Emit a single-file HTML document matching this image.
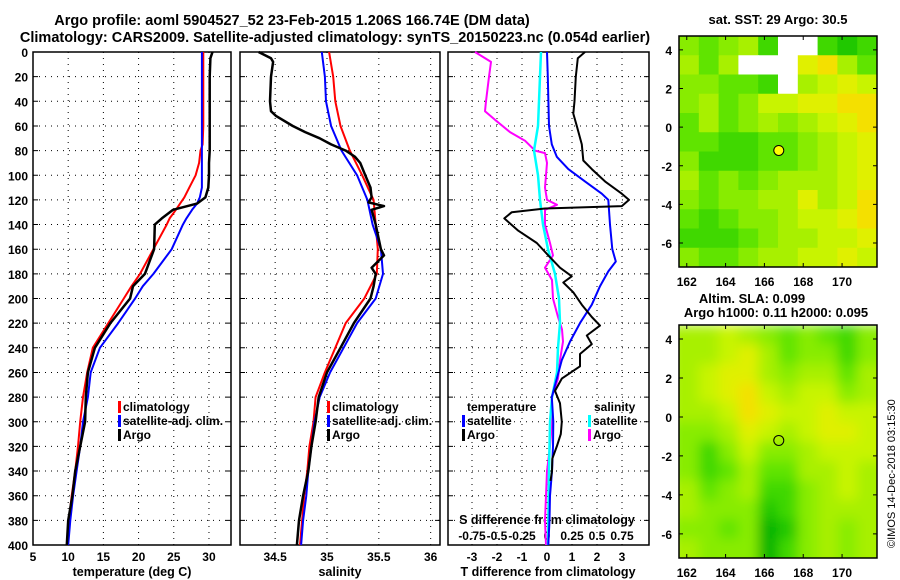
<!DOCTYPE html>
<html><head><meta charset="utf-8"><style>
body{margin:0;background:#fff}
svg{display:block;font-family:"Liberation Sans",sans-serif;font-weight:bold}
</style></head><body>
<svg id="c" width="900" height="580" xmlns="http://www.w3.org/2000/svg">
<text x="292" y="25" font-size="14.5" text-anchor="middle">Argo profile: aoml 5904527_52 23-Feb-2015 1.206S 166.74E (DM data)</text>
<text x="335" y="42" font-size="14.5" text-anchor="middle">Climatology: CARS2009. Satellite-adjusted climatology: synTS_20150223.nc (0.054d earlier)</text>
<text x="778" y="24" font-size="13" text-anchor="middle">sat. SST: 29 Argo: 30.5</text>
<text x="752" y="303" font-size="13" text-anchor="middle">Altim. SLA: 0.099</text>
<text x="776" y="317" font-size="13" text-anchor="middle">Argo h1000: 0.11 h2000: 0.095</text>
<text transform="translate(895,548) rotate(-90)" font-size="11" font-weight="normal">©IMOS 14-Dec-2018 03:15:30</text>
<g id="g"></g>
</svg>
<script>
const depths=[0,5,20,40,60,75,80,90,100,110,118,123,128,135,140,160,180,190,200,220,240,260,280,300,320,340,360,380,400];
const tClim=[29.2,29.2,29.2,29.2,29.2,29.1,28.8,28.6,28.1,27.2,26.5,25.9,25.3,24.4,24.0,22.1,20.2,19.0,17.9,15.7,13.5,12.7,12.1,11.7,11.4,11.0,10.5,10.1,9.8];
const tSat=[29.0,29.0,29.0,29.0,29.0,29.0,29.0,29.0,29.0,29.0,28.7,28.3,27.6,26.8,26.3,24.7,22.1,20.6,19.5,17.1,14.5,13.2,12.8,12.1,11.7,11.2,10.7,10.3,10.0];
const tArgo=[30.5,30.2,30.1,30.1,30.1,30.1,30.1,30.0,30.0,29.9,29.5,28.3,24.9,23.3,22.3,22.2,20.9,19.2,18.8,16.0,13.8,12.8,12.5,12.4,11.7,11.0,10.6,10.0,9.8];
const sDepths=[0,5,8,20,40,48,52,60,65,70,75,80,85,90,100,110,118,122,125,128,140,160,165,175,180,190,200,220,240,260,280,300,320,340,360,380,400];
const sArgo=[34.34,34.46,34.48,34.46,34.45,34.46,34.51,34.67,34.79,34.93,35.04,35.18,35.27,35.32,35.37,35.42,35.43,35.40,35.55,35.43,35.47,35.52,35.55,35.43,35.47,35.45,35.42,35.26,35.13,35.00,34.92,34.89,34.85,34.82,34.77,34.73,34.71];
const cDepths=[0,20,40,60,80,100,120,140,160,180,200,220,240,260,280,300,320,340,360,380,400];
const sClim=[35.02,35.06,35.08,35.13,35.22,35.34,35.45,35.47,35.49,35.48,35.36,35.18,35.08,34.98,34.89,34.87,34.83,34.81,34.78,34.76,34.74];
const sSat=[34.95,34.98,34.99,35.04,35.14,35.29,35.39,35.44,35.52,35.54,35.47,35.29,35.16,35.03,34.93,34.88,34.85,34.82,34.80,34.77,34.75];
const dtDepths=[0,5,20,40,50,60,75,88,95,105,115,120,125,127,130,135,145,155,165,175,182,187,195,205,215,222,230,237,245,255,265,275,285,300,310,320,330,340,348];
const dtArgo=[1.52,1.23,1.15,1.10,1.05,1.19,1.39,1.45,1.79,2.32,2.99,3.28,2.99,-0.08,-1.41,-1.71,-1.15,-0.41,0.05,0.52,0.99,0.65,1.05,1.39,1.79,2.12,1.59,1.79,1.32,1.32,0.59,0.32,0.52,0.59,0.55,0.39,0.21,0.20,0.14];
const dtsDepths=[0,20,60,75,85,95,105,115,120,140,160,170,178,190,205,220,235,250,265,280,300,320,340,360,380,400];
const dtSat=[0,0.03,0.08,0.19,0.39,0.85,1.52,2.19,2.45,2.52,2.61,2.75,2.45,2.12,1.79,1.32,0.92,0.59,0.39,0.19,0.25,0.24,0.20,0.12,0.10,0.05];
const dsaDepths=[0,8,20,40,48,55,65,72,80,82,90,110,120,124,128,140,155,165,175,185,200,215,225,235,250,265,280,300,320,340,360,380,400];
const dsArgo=[-0.72,-0.56,-0.58,-0.61,-0.62,-0.52,-0.37,-0.22,-0.12,-0.02,0,-0.02,0,0.10,-0.02,-0.02,0.03,0.06,-0.02,0.05,0.06,0.11,0.15,0.16,0.13,0.11,0.05,0.05,0.03,0,-0.01,-0.02,-0.01];
const dssDepths=[0,40,60,80,100,120,140,160,180,200,220,240,260,280,300,340,400];
const dsSat=[-0.06,-0.08,-0.09,-0.13,-0.09,-0.07,-0.04,0.01,0.08,0.12,0.13,0.11,0.10,0.05,0.03,0.02,0.01];
const depthTicks=[0,20,40,60,80,100,120,140,160,180,200,220,240,260,280,300,320,340,360,380,400];
const tTicks=[5,10,15,20,25,30];
const sTicks=[34.5,35,35.5,36];
const dtTicks=[-3,-2,-1,0,1,2,3];
const dsTicks=[-0.75,-0.5,-0.25,0,0.25,0.5,0.75];
const dsTickLabels=["-0.75","-0.5","-0.25","0","0.25","0.5","0.75"];
const lonTicks=[162,164,166,168,170];
const latTicks=[4,2,0,-2,-4,-6];
const sstGrid=[
[4,3,4,5,2,-1,-1,2,1,2],[5,3,5,-1,-1,-1,7,8,5,3],[4,4,3,3,2,-1,5,6,7,6],[4,5,3,4,6,6,7,7,8,8],
[3,5,3,4,5,4,5,6,7,8],[3,3,2,2,3,3,4,5,6,7],[4,2,2,2,3,3,4,5,6,7],[5,3,4,3,4,5,5,5,6,7],
[4,3,4,4,5,5,7,5,6,8],[3,2,3,4,4,5,6,6,7,8],[2,2,2,3,4,5,5,6,6,7],[4,3,3,4,5,5,6,6,7,6]];
const slaGrid=[
[5,5,6,5,4,3,4,3,2,4],[5,5,6,7,5,3,4,4,2,4],[5,6,7,7,5,4,5,5,3,5],[5,6,7,8,6,5,6,6,4,5],
[5,5,6,8,7,6,6,7,6,6],[4,4,5,7,6,5,6,7,7,6],[4,2,4,6,4,4,5,6,6,6],[4,2,3,5,3,3,5,5,6,5],
[5,3,4,5,2,2,4,5,6,5],[5,4,4,4,1,2,4,5,5,5],[4,4,3,4,0,1,4,5,4,5],[5,4,4,4,0,2,4,5,4,5]];
const argoPos=[166.74,-1.206];

const NS="http://www.w3.org/2000/svg";
const G=document.getElementById('g');
function mk(tag,attrs,parent){const e=document.createElementNS(NS,tag);for(const k in attrs)e.setAttribute(k,attrs[k]);(parent||G).appendChild(e);return e;}
const top0=52,bot=545;
const yD=d=>top0+(bot-top0)*d/400;
const panels=[
 {x0:33,x1:231,v0:5,v1:33.13,ticks:tTicks,name:'temperature'},
 {x0:240,x1:440,v0:34.161,v1:36.09,ticks:sTicks,name:'salinity'},
 {x0:448,x1:649,v0:-3.96,v1:4.08,ticks:dtTicks,name:'t-difference'}];
const sx=(p,v)=>p.x0+(p.x1-p.x0)*(v-p.v0)/(p.v1-p.v0);
const dsx=v=>547+v*100;
panels.forEach((p,i)=>{
 const f=mk('rect',{x:p.x0,y:top0,width:p.x1-p.x0,height:bot-top0,fill:'none',stroke:'#000','stroke-width':1.5});
 
 
 depthTicks.forEach(d=>{
  if(d>0&&d<400){const l=mk('line',{x1:p.x0,x2:p.x1,y1:yD(d),y2:yD(d),stroke:'#000','stroke-dasharray':'1 5'});
  
  }
  const tk=mk('path',{d:`M${p.x0},${yD(d)}h5M${p.x1},${yD(d)}h-5`,stroke:'#000'});
  
  
  if(i===0){const t=mk('text',{x:p.x0-5,y:yD(d)+5,'font-size':12,'text-anchor':'end'});t.textContent=d;
  
  }
 });
 p.ticks.forEach(v=>{const x=sx(p,v);
  const l=mk('line',{x1:x,x2:x,y1:top0,y2:bot,stroke:'#000','stroke-dasharray':'1 5'});
  
  
  const t=mk('text',{x:x,y:561,'font-size':12,'text-anchor':'middle'});t.textContent=v;
  
  
 });
});
[['temperature (deg C)',132],['salinity',340],['T difference from climatology',548]].forEach(a=>{
 const t=mk('text',{x:a[1],y:576,'font-size':12.5,'text-anchor':'middle'});t.textContent=a[0];
 
 
});
const st=mk('text',{x:547,y:524,'font-size':12.5,'text-anchor':'middle'});st.textContent='S difference from climatology';


dsTicks.forEach((v,k)=>{const t=mk('text',{x:dsx(v),y:540,'font-size':12,'text-anchor':'middle'});t.textContent=dsTickLabels[k];
 
 });
function line(xs,ds,fx,color,w,name){
 const d=xs.map((v,k)=>(k?'L':'M')+fx(v).toFixed(1)+','+yD(ds[k]).toFixed(1)).join('');
 const e=mk('path',{d:d,fill:'none',stroke:color,'stroke-width':w,'stroke-linejoin':'round'});
 
 
}
const P=panels;
line(tClim,depths,v=>sx(P[0],v),'#f00',2,'temperature-climatology-line');
line(tSat,depths,v=>sx(P[0],v),'#00f',2,'temperature-satellite-line');
line(tArgo,depths,v=>sx(P[0],v),'#000',2.5,'temperature-argo-line');
line(sClim,cDepths,v=>sx(P[1],v),'#f00',2,'salinity-climatology-line');
line(sSat,cDepths,v=>sx(P[1],v),'#00f',2,'salinity-satellite-line');
line(sArgo,sDepths,v=>sx(P[1],v),'#000',2.5,'salinity-argo-line');
line(dsArgo,dsaDepths,dsx,'#f0f',2,'s-diff-argo-line');
line(dsSat,dssDepths,dsx,'#0ff',2.5,'s-diff-satellite-line');
line(dtSat,dtsDepths,v=>sx(P[2],v),'#00f',2,'t-diff-satellite-line');
line(dtArgo,dtDepths,v=>sx(P[2],v),'#000',2,'t-diff-argo-line');
function leg(x,y,color,label){
 if(color){const r=mk('rect',{x:x,y:y-10,width:3,height:12,fill:color});
 
 }
 const t=mk('text',{x:x+5,y:y,'font-size':12});t.textContent=label;
 
 
}
leg(118,411,'#f00','climatology');leg(118,425,'#00f','satellite-adj. clim.');leg(118,439,'#000','Argo');
leg(327,411,'#f00','climatology');leg(327,425,'#00f','satellite-adj. clim.');leg(327,439,'#000','Argo');
leg(462,411,null,'temperature');leg(462,425,'#00f','satellite');leg(462,439,'#000','Argo');
leg(589,411,null,'salinity');leg(588,425,'#0ff','satellite');leg(588,439,'#f0f','Argo');
const cols=['#00b400','#20c800','#40d800','#60e400','#88ec00','#a8f000','#c8f400','#e0f000','#f4e000','#ffc800'];
const lon0=161.6,lon1=171.8,lat0=4.72,lat1=-7.24;
function map(y0,y1,grid,name,blur,fillCircle){
 const x0=679,x1=877;
 const lx=v=>x0+(x1-x0)*(v-lon0)/(lon1-lon0), ly=v=>y0+(y1-y0)*(v-lat0)/(lat1-lat0);
 const cid='clip'+name;
 const cp=mk('clipPath',{id:cid});mk('rect',{x:x0,y:y0,width:x1-x0,height:y1-y0},cp);
 const g=mk('g',{'clip-path':`url(#${cid})`});
 
 
 const inner=mk('g',blur?{filter:'url(#bl)'}:{},g);
 const nr=grid.length,nc=grid[0].length,cw=(x1-x0)/nc,ch=(y1-y0)/nr;
 grid.forEach((row,r)=>row.forEach((v,c)=>{
  const e=mk('rect',{x:x0+c*cw-(blur?cw*0.5*(c==0):0),y:y0+r*ch,width:cw+1+(blur&&(c==0||c==nc-1)?cw:0),height:ch+1+(blur&&r==nr-1?ch:0),fill:v<0?'#fff':cols[v]},inner);
  
  
 }));
 const f=mk('rect',{x:x0,y:y0,width:x1-x0,height:y1-y0,fill:'none',stroke:'#000','stroke-width':1.5});
 
 
 lonTicks.forEach(v=>{const t=mk('text',{x:lx(v),y:y1+19,'font-size':12,'text-anchor':'middle'});t.textContent=v;
  
  
  const tk=mk('path',{d:`M${lx(v)},${y0}v4M${lx(v)},${y1}v-4`,stroke:'#000'});
  
  });
 latTicks.forEach(v=>{const t=mk('text',{x:x0-7,y:ly(v)+5,'font-size':12,'text-anchor':'end'});t.textContent=v;
  
  
  const tk=mk('path',{d:`M${x0},${ly(v)}h4M${x1},${ly(v)}h-4`,stroke:'#000'});
  
  });
 const c=mk('circle',{cx:lx(argoPos[0]),cy:ly(argoPos[1]),r:5,fill:fillCircle?'#ff0':'none',stroke:'#000','stroke-width':1});
 
 
}
const defs=mk('defs',{});
const fl=mk('filter',{id:'bl',x:'-10%',y:'-10%',width:'120%',height:'120%'},defs);
mk('feGaussianBlur',{stdDeviation:6},fl);
map(36,267,sstGrid,'sst-map',false,true);
map(325,558,slaGrid,'sla-map',true,false);
</script>
</body></html>
